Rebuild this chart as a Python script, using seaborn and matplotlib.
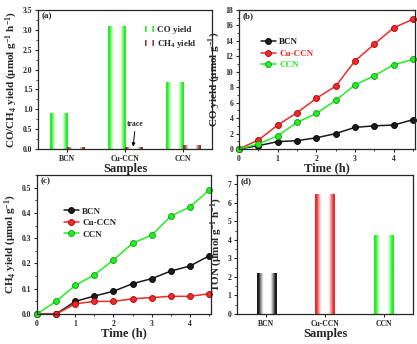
import numpy as np
import pandas as pd
import matplotlib
matplotlib.use("Agg")
import matplotlib.pyplot as plt
from matplotlib.colors import to_rgb
from matplotlib.patches import Rectangle
from matplotlib.legend_handler import HandlerBase
from matplotlib.lines import Line2D
from matplotlib.ticker import MultipleLocator, FormatStrFormatter
import seaborn as sns

# ---- data ----
samples = ["BCN", "Cu-CCN", "CCN"]
co_rate = [0.90, 3.08, 1.68]          # CO yield, umol g-1 h-1
ch4_rate = [0.04, 0.03, 0.10]         # CH4 yield, umol g-1 h-1
ton = [2.20, 6.47, 4.25]

time_h = [0, 0.5, 1, 1.5, 2, 2.5, 3, 3.5, 4, 4.5]
co_bcn = [0, 0.43, 0.95, 1.08, 1.45, 2.0, 2.8, 3.0, 3.1, 3.8]
co_cuccn = [0, 1.16, 3.1, 4.7, 6.55, 8.15, 11.4, 13.6, 15.7, 16.8]
co_ccn = [0, 0.65, 1.7, 3.45, 4.6, 6.3, 8.3, 9.5, 10.9, 11.6]
ch4_bcn = [0, 0.0, 0.05, 0.071, 0.09, 0.12, 0.14, 0.17, 0.19, 0.23]
ch4_cuccn = [0, 0.0, 0.04, 0.05, 0.05, 0.06, 0.065, 0.07, 0.07, 0.08]
ch4_ccn = [0, 0.05, 0.113, 0.155, 0.214, 0.28, 0.312, 0.387, 0.424, 0.49]

GREEN = "#22ee22"
RED = "#ee2a2a"
BLACK = "#1a1a1a"
BROWN = "#8a3434"

sns.set_style("ticks")
plt.rcParams.update({
    "font.family": ["Liberation Serif", "DejaVu Serif"],
    "font.weight": "bold",
    "axes.labelweight": "bold",
    "mathtext.fontset": "custom",
    "mathtext.rm": "Liberation Serif:bold",
    "mathtext.it": "Liberation Serif:italic:bold",
    "mathtext.bf": "Liberation Serif:bold",
    "axes.linewidth": 0.9,
    "xtick.direction": "out",
    "ytick.direction": "out",
    "xtick.major.size": 2.5,
    "ytick.major.size": 2.5,
    "xtick.minor.size": 1.5,
    "ytick.minor.size": 1.5,
    "xtick.major.width": 0.8,
    "ytick.major.width": 0.8,
    "xtick.labelsize": 5.5,
    "ytick.labelsize": 5.5,
    "xtick.major.pad": 1.5,
    "ytick.major.pad": 1.5,
})

W, H = 417, 344
fig = plt.figure(figsize=(W / 100, H / 100), dpi=100)


def px_axes(l, t, r, b):
    return fig.add_axes([l / W, 1 - b / H, (r - l) / W, (b - t) / H])


ax_a = px_axes(38, 10, 212, 149)
ax_b = px_axes(239, 10, 415, 149)
ax_c = px_axes(37, 175, 211, 314)
ax_d = px_axes(237, 175, 413, 314)


def profile(color, n=64):
    u = np.linspace(0, 1, n)
    t = np.clip((np.sin(np.pi * u) - 0.25) / 0.6, 0, 1)
    rgb = np.array(to_rgb(color))
    return rgb[None, :] * (1 - t[:, None]) + t[:, None]


def shade_bar(ax, patch, color):
    x, y = patch.get_x(), patch.get_y()
    w, h = patch.get_width(), patch.get_height()
    ax.imshow(profile(color)[None, :, :], extent=(x, x + w, y, y + h),
              aspect="auto", interpolation="bilinear", zorder=2)
    patch.set_facecolor("none")
    patch.set_edgecolor("none")


class GradientHandler(HandlerBase):
    def __init__(self, color):
        super().__init__()
        self.color = color

    def create_artists(self, legend, orig_handle, xdescent, ydescent,
                       width, height, fontsize, trans):
        cols = profile(self.color, 7)
        w = width * 0.6 / len(cols)
        x0 = width * 0.4 - xdescent
        return [Rectangle((x0 + i * w, -ydescent), w, height, facecolor=c,
                          edgecolor="none", transform=trans)
                for i, c in enumerate(cols)]


def finish(ax, label_text):
    ax.text(0.02, 0.985, label_text, transform=ax.transAxes, ha="left",
            va="top", fontsize=6.5, fontweight="bold")
    for s in ax.spines.values():
        s.set_visible(True)
        s.set_linewidth(0.9)


# ---- (a) CO / CH4 production rates ----
rates = pd.DataFrame({
    "Samples": samples * 2,
    "rate": co_rate + ch4_rate,
    "gas": ["CO"] * 3 + ["CH4"] * 3,
})
sns.barplot(data=rates, x="Samples", y="rate", hue="gas", ax=ax_a,
            width=0.6, palette=[GREEN, BROWN], errorbar=None, legend=False)
for i, p in enumerate(ax_a.patches[:6]):
    shade_bar(ax_a, p, GREEN if i < 3 else BROWN)
ax_a.set_xlim(-0.5, 2.5)
ax_a.set_ylim(0, 3.5)
ax_a.yaxis.set_major_locator(MultipleLocator(0.5))
ax_a.yaxis.set_minor_locator(MultipleLocator(0.25))
ax_a.yaxis.set_major_formatter(FormatStrFormatter("%.1f"))
ax_a.set_ylabel("CO/CH$_4$ yield (μmol g$^{-1}$ h$^{-1}$)", fontsize=8,
                labelpad=2)
ax_a.set_xlabel("Samples", fontsize=9, labelpad=0)
ax_a.annotate("trace", xy=(1.14, 0.06), xytext=(1.18, 0.52),
              ha="center", va="bottom", fontsize=5.5, fontweight="bold",
              arrowprops=dict(arrowstyle="-|>", color="black", lw=0.7,
                              mutation_scale=5, shrinkA=0, shrinkB=0))
h_co, h_ch4 = Rectangle((0, 0), 1, 1), Rectangle((0, 0), 1, 1)
ax_a.legend([h_co, h_ch4], ["CO yield", "CH$_4$ yield"],
            handler_map={h_co: GradientHandler(GREEN),
                         h_ch4: GradientHandler(BROWN)},
            loc="upper left", bbox_to_anchor=(0.55, 0.92), frameon=False,
            fontsize=6.5, handlelength=1.8, handletextpad=0.3,
            labelspacing=0.5, borderpad=0)
finish(ax_a, "(a)")

# ---- line panels ----
names = ["BCN", "Cu-CCN", "CCN"]
line_colors = [BLACK, RED, GREEN]
edge_colors = ["#000000", "#aa0000", "#119911"]


def long_frame(series):
    return pd.DataFrame({
        "Time (h)": time_h * 3,
        "value": [v for s in series for v in s],
        "sample": [n for n in names for _ in time_h],
    })


def line_panel(ax, frame):
    sns.lineplot(data=frame, x="Time (h)", y="value", hue="sample",
                 hue_order=names, palette=line_colors, marker="o",
                 markersize=4.3, linewidth=1.1, ax=ax, legend=False,
                 errorbar=None)
    for ln, ec in zip(ax.lines, edge_colors):
        ln.set_markeredgecolor(ec)
        ln.set_markeredgewidth(0.6)
        ln.set_clip_on(False)
    ax.set_xlim(0, 4.55)
    ax.xaxis.set_major_locator(MultipleLocator(1))
    ax.xaxis.set_minor_locator(MultipleLocator(0.5))


def line_legend(ax, anchor, colored_text):
    handles = [Line2D([], [], color=c, marker="o", markersize=4.3,
                      markeredgecolor=e, markeredgewidth=0.6, linewidth=1.1)
               for c, e in zip(line_colors, edge_colors)]
    leg = ax.legend(handles, names, loc="upper left", bbox_to_anchor=anchor,
                    frameon=False, fontsize=6.5, handlelength=1.6,
                    handletextpad=0.4, labelspacing=0.35, borderpad=0)
    if colored_text:
        for t, c in zip(leg.get_texts(), line_colors):
            t.set_color(c)


# ---- (b) CO evolution ----
line_panel(ax_b, long_frame([co_bcn, co_cuccn, co_ccn]))
ax_b.set_ylim(0, 18)
ax_b.yaxis.set_major_locator(MultipleLocator(2))
ax_b.yaxis.set_minor_locator(MultipleLocator(1))
ax_b.set_ylabel("CO yield (μmol g$^{-1}$)", fontsize=8, labelpad=2)
ax_b.set_xlabel("Time (h)", fontsize=9, labelpad=0)
line_legend(ax_b, (0.1, 0.83), True)
finish(ax_b, "(b)")

# ---- (c) CH4 evolution ----
line_panel(ax_c, long_frame([ch4_bcn, ch4_cuccn, ch4_ccn]))
ax_c.set_ylim(0, 0.55)
ax_c.yaxis.set_major_locator(MultipleLocator(0.1))
ax_c.yaxis.set_minor_locator(MultipleLocator(0.05))
ax_c.yaxis.set_major_formatter(FormatStrFormatter("%.1f"))
ax_c.set_ylabel("CH$_4$ yield (μmol g$^{-1}$)", fontsize=8, labelpad=2)
ax_c.set_xlabel("Time (h)", fontsize=9, labelpad=0)
line_legend(ax_c, (0.13, 0.8), False)
finish(ax_c, "(c)")

# ---- (d) TON ----
ton_df = pd.DataFrame({"Samples": samples, "TON": ton})
sns.barplot(data=ton_df, x="Samples", y="TON", hue="Samples",
            palette=[BLACK, RED, GREEN], width=0.33, errorbar=None,
            legend=False, ax=ax_d)
for p, c in zip(ax_d.patches[:3], [BLACK, RED, GREEN]):
    shade_bar(ax_d, p, c)
ax_d.set_xlim(-0.5, 2.5)
ax_d.set_ylim(0, 7.5)
ax_d.yaxis.set_major_locator(MultipleLocator(1))
ax_d.yaxis.set_minor_locator(MultipleLocator(0.5))
ax_d.set_ylabel("TON (μmol g$^{-1}$ h$^{-1}$)", fontsize=8, labelpad=2)
ax_d.set_xlabel("Samples", fontsize=9, labelpad=0)
finish(ax_d, "(d)")

fig.savefig("out.png", dpi=100, facecolor="white")
